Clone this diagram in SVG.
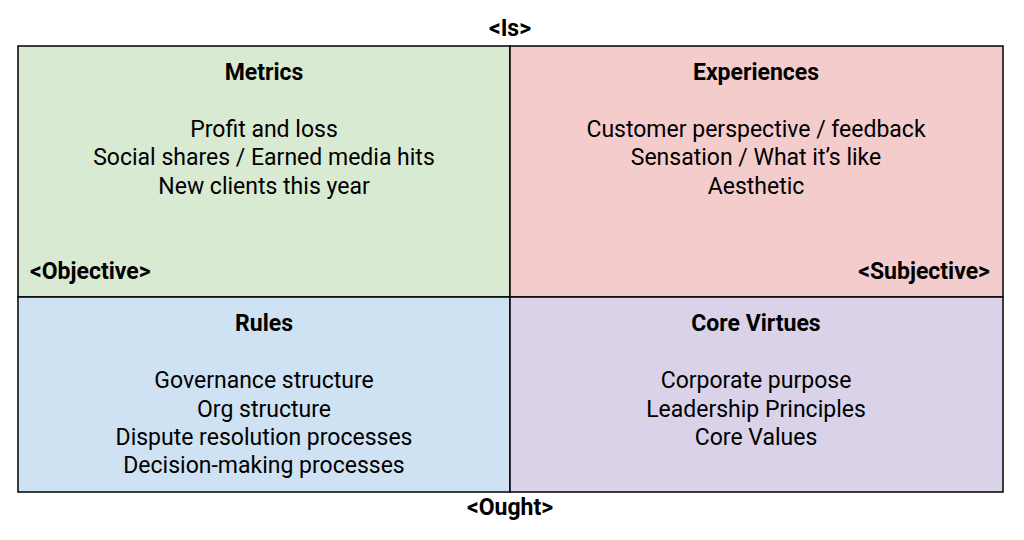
<svg xmlns="http://www.w3.org/2000/svg" width="1024" height="540" viewBox="0 0 1024 540">
<style>
text{font-family:Roboto,"Liberation Sans",sans-serif;fill:#000;}
.t{font-size:23px;font-weight:bold;text-anchor:middle;}
.b{font-size:23px;text-anchor:middle;}
.a{font-size:23px;font-weight:bold;}
.q{stroke:#000;stroke-width:1.5;}
</style>
<rect width="1024" height="540" fill="#fff"/>
<g id="is"><text class="t" x="510" y="36">&lt;Is&gt;</text></g>
<g id="metrics">
<rect class="q" x="18" y="46" width="492" height="251" fill="#d9ead3"/>
<text class="t" x="264" y="80">Metrics</text>
<text class="b" x="264" y="137">Profit and loss</text>
<text class="b" x="264" y="165">Social shares / Earned media hits</text>
<text class="b" x="264" y="194">New clients this year</text>
<text class="a" x="30" y="279">&lt;Objective&gt;</text>
</g>
<g id="experiences">
<rect class="q" x="510" y="46" width="493" height="251" fill="#f4cccc"/>
<text class="t" x="756" y="80">Experiences</text>
<text class="b" x="756" y="137">Customer perspective / feedback</text>
<text class="b" x="756" y="165">Sensation / What it’s like</text>
<text class="b" x="756" y="194">Aesthetic</text>
<text class="a" x="990" y="279" text-anchor="end">&lt;Subjective&gt;</text>
</g>
<g id="rules">
<rect class="q" x="18" y="297" width="492" height="195" fill="#cfe2f3"/>
<text class="t" x="264" y="331">Rules</text>
<text class="b" x="264" y="388">Governance structure</text>
<text class="b" x="264" y="417">Org structure</text>
<text class="b" x="264" y="445">Dispute resolution processes</text>
<text class="b" x="264" y="473">Decision-making processes</text>
</g>
<g id="virtues">
<rect class="q" x="510" y="297" width="493" height="195" fill="#d9d2e9"/>
<text class="t" x="756" y="331">Core Virtues</text>
<text class="b" x="756" y="388">Corporate purpose</text>
<text class="b" x="756" y="417">Leadership Principles</text>
<text class="b" x="756" y="445">Core Values</text>
</g>
<g id="ought"><text class="t" x="510" y="515">&lt;Ought&gt;</text></g>
<g id="connectors"></g>
</svg>
